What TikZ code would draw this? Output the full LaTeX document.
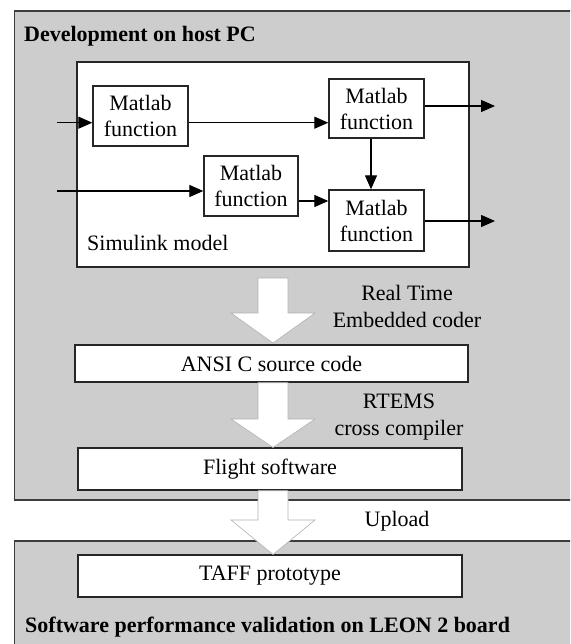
\documentclass[tikz,border=0pt]{standalone}
\usepackage{fontspec}
\setmainfont{Liberation Serif}
\usetikzlibrary{arrows.meta,calc}
\definecolor{panelgray}{RGB}{205,205,205}
\definecolor{paneledge}{RGB}{60,60,60}
\begin{document}
\begin{tikzpicture}[x=1pt,y=-1pt,
  txt/.style={font=\fontsize{22}{27}\selectfont, inner sep=0pt},
  ttl/.style={font=\fontsize{22}{27}\selectfont\bfseries, inner sep=0pt},
  panel/.style={fill=panelgray, draw=paneledge, line width=1.6pt},
  fnbox/.style={draw=black!85, line width=1.4pt, fill=white, inner sep=0pt,
    minimum width=95pt, minimum height=60pt, align=center,
    font=\fontsize{22}{26}\selectfont},
  wbox/.style={draw=black!85, line width=1.4pt, fill=white, inner sep=0pt,
    font=\fontsize{22}{27}\selectfont},
  sig/.style={line width=1.3pt, -{Triangle[length=14pt,width=12pt]}},
  bigarr/.style={fill=white, draw=black!30, line width=0.6pt, line join=miter}
]
\useasboundingbox (0,0) rectangle (570,644);
\begin{scope}
\clip (0,0) rectangle (570,644);
% panels
\draw[panel] (14.5,11) rectangle (590,500);
\draw[panel] (14.5,541) rectangle (590,670);
\node[ttl, anchor=base west] (hosttitle) at (24,42) {Development on host PC};
\node[ttl, anchor=base west] (leontitle) at (25,632) {Software performance validation on LEON 2 board};

% simulink model
\node[draw=black!85, line width=1.4pt, fill=white, minimum width=392pt, minimum height=205pt, inner sep=0pt] (sim) at (273,164.5) {};
\node[txt, anchor=base west] (simlabel) at (87,250) {Simulink model};

\node[fnbox] (m1) at (140.5,116) {Matlab\\function};
\node[fnbox, minimum height=59pt] (m2) at (376.5,108.5) {Matlab\\function};
\node[fnbox, minimum width=94pt] (m3) at (251,186) {Matlab\\function};
\node[fnbox, minimum height=61pt] (m4) at (376.5,220.5) {Matlab\\function};

\coordinate (in1) at (57,122.7);
\coordinate (in2) at (57,191);
\coordinate (out1) at (495,106);
\coordinate (out2) at (495,221);
\coordinate (mid) at (0,201);

\draw[sig] (in1) -- (in1 -| m1.west);
\draw[sig] (m1.east |- in1) -- (m2.west |- in1);
\draw[sig] (m2.east |- out1) -- (out1);
\draw[sig] ([xshift=-5.5pt]m2.south) -- ([xshift=-5.5pt]m4.north);
\draw[sig] (in2) -- (in2 -| m3.west);
\draw[sig] (m3.east |- mid) -- (m4.west |- mid);
\draw[sig] (m4.east |- out2) -- (out2);

% code boxes
\node[wbox, minimum width=393pt, minimum height=37pt] (ansi) at (271.5,363.5) {ANSI C source code};
\node[wbox, minimum width=384pt, minimum height=42pt] (flight) at (270,469) {Flight software};
\node[wbox, minimum width=384pt, minimum height=42pt] (taff) at (270,576) {TAFF prototype};

% block arrows
\draw[bigarr] (258,278) -- (288,278) -- (288,313) -- (315,313) -- (273,343) -- (231,313) -- (258,313) -- cycle;
\draw[bigarr] (258,382.7) -- (288,382.7) -- (288,419) -- (315,419) -- (273,447.5) -- (231,419) -- (258,419) -- cycle;
\draw[bigarr] (258,490.7) -- (288,490.7) -- (288,520) -- (315,520) -- (273,554.5) -- (231,520) -- (258,520) -- cycle;

\node[txt, align=center] (rtec) at (407,306) {Real Time\\Embedded coder};
\node[txt, align=center] (rtems) at (399,417) {RTEMS\\cross compiler};
\node[txt] (upload) at (397,521) {Upload};
\end{scope}
\end{tikzpicture}
\end{document}
